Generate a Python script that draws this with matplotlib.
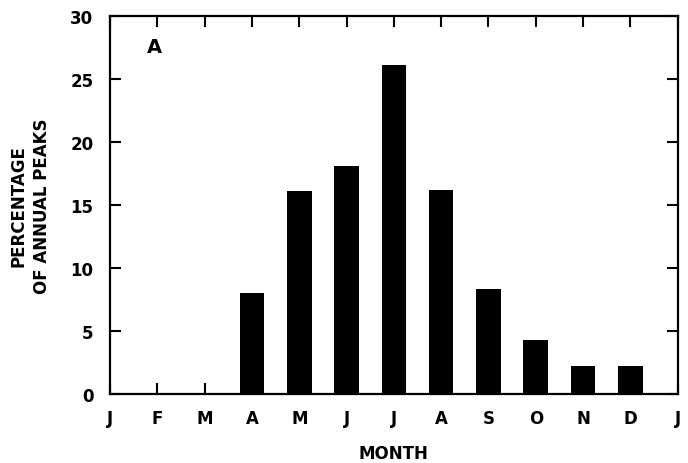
import matplotlib
matplotlib.use("Agg")
import matplotlib.pyplot as plt

months = ["J", "F", "M", "A", "M", "J", "J", "A", "S", "O", "N", "D", "J"]
bar_pos = [3, 4, 5, 6, 7, 8, 9, 10, 11]
pct_peaks = [8.0, 16.1, 18.1, 26.1, 16.2, 8.3, 4.3, 2.2, 2.2]
y_ticks = [0, 5, 10, 15, 20, 25, 30]

plt.rcParams['font.family'] = ['DejaVu Sans']
plt.rcParams['font.weight'] = 'bold'

fig = plt.figure(figsize=(6.88, 4.64), dpi=100)
ax = fig.add_axes([0.160, 0.149, 0.825, 0.814])

ax.bar(bar_pos, pct_peaks, width=0.52, color="black")

ax.set_xlim(0, 12)
ax.set_ylim(0, 30)
ax.set_xticks(range(len(months)), months)
ax.set_yticks(y_ticks, [str(t) for t in y_ticks])

ax.tick_params(direction="in", length=8, width=1.5, top=True, right=True,
               labelsize=12)
ax.tick_params(axis="x", pad=11)
ax.tick_params(axis="y", pad=12)
for s in ax.spines.values():
    s.set_linewidth(1.6)

ax.set_xlabel("MONTH", fontsize=12, fontweight="bold", labelpad=12)
ax.set_ylabel("PERCENTAGE\nOF ANNUAL PEAKS", fontsize=12, fontweight="bold",
              labelpad=14, linespacing=1.35)
ax.text(0.065, 0.945, "A", transform=ax.transAxes, fontsize=14,
        fontweight="bold", va="top", ha="left")

fig.savefig("out.png", dpi=100)
